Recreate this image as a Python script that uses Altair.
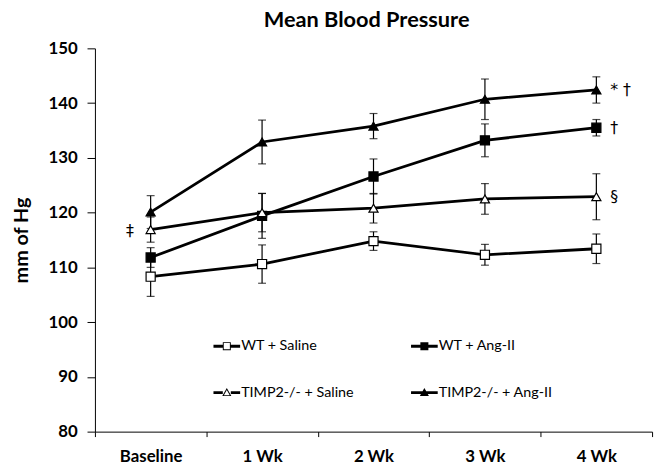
import altair as alt
import pandas as pd

times = ["Baseline", "1 Wk", "2 Wk", "3 Wk", "4 Wk"]
series_names = ["WT + Saline", "WT + Ang-II", "TIMP2-/- + Saline", "TIMP2-/- + Ang-II"]

wt_saline = [108.3, 110.6, 114.8, 112.3, 113.4]
wt_saline_err = [3.6, 3.5, 1.7, 1.9, 2.7]
wt_ang = [111.8, 119.4, 126.6, 133.2, 135.5]
wt_ang_err = [1.8, 4.1, 3.2, 3.0, 1.5]
timp_saline = [116.9, 120.0, 120.8, 122.5, 122.9]
timp_saline_err = [2.3, 3.5, 2.7, 2.8, 4.2]
timp_ang = [120.1, 132.9, 135.8, 140.7, 142.4]
timp_ang_err = [3.0, 4.0, 2.3, 3.7, 2.4]

annot_time = ["4 Wk", "4 Wk", "4 Wk"]
annot_y = [142.4, 135.5, 122.9]
annot_text = ["*  \u2020", "\u2020", "\u00a7"]
left_annot_time = ["Baseline"]
left_annot_y = [116.6]
left_annot_text = ["\u2021"]

FONT = "Lato"
SYM_FONT = "DejaVu Sans"

rows = []
for name, vals, errs in [
    ("WT + Saline", wt_saline, wt_saline_err),
    ("WT + Ang-II", wt_ang, wt_ang_err),
    ("TIMP2-/- + Saline", timp_saline, timp_saline_err),
    ("TIMP2-/- + Ang-II", timp_ang, timp_ang_err),
]:
    for t, v, e in zip(times, vals, errs):
        rows.append({"time": t, "series": name, "value": v, "lo": v - e, "hi": v + e})
df = pd.DataFrame(rows)

ann = pd.DataFrame({"time": annot_time, "value": annot_y, "text": annot_text})
ann_left = pd.DataFrame({"time": left_annot_time, "value": left_annot_y, "text": left_annot_text})

xenc = alt.X(
    "time:N",
    sort=times,
    bandPosition=0.5,
    scale=alt.Scale(type="band", domain=times, paddingInner=0, paddingOuter=0),
    axis=alt.Axis(
        title=None,
        labelAngle=0,
        tickBand="extent",
        tickSize=5,
        labelPadding=12,
        labelFont=FONT,
        labelFontSize=17,
        labelFontWeight="bold",
        labelColor="black",
        domainColor="black",
        tickColor="black",
        grid=False,
    ),
)
yscale = alt.Scale(domain=[80, 150], nice=False, zero=False)
yaxis = alt.Axis(
    title="mm of Hg",
    values=[80, 90, 100, 110, 120, 130, 140, 150],
    tickSize=8,
    labelPadding=10,
    labelFont=FONT,
    labelFontSize=17,
    labelFontWeight="bold",
    labelColor="black",
    titleFont=FONT,
    titleFontSize=20,
    titleFontWeight="bold",
    titleColor="black",
    titlePadding=17,
    domainColor="black",
    tickColor="black",
    grid=False,
)

base = alt.Chart(df)

lines = base.mark_line(color="black", strokeWidth=2.8).encode(
    x=xenc,
    y=alt.Y("value:Q", scale=yscale, axis=yaxis),
    detail="series:N",
)

rules = base.mark_rule(color="black", strokeWidth=1.2).encode(
    x=xenc, y=alt.Y("lo:Q", scale=yscale), y2="hi:Q"
)
caps_lo = base.mark_tick(color="black", size=8, thickness=1.2).encode(
    x=xenc, y=alt.Y("lo:Q", scale=yscale)
)
caps_hi = base.mark_tick(color="black", size=8, thickness=1.2).encode(
    x=xenc, y=alt.Y("hi:Q", scale=yscale)
)

points = base.mark_point(size=85, strokeWidth=1.2, opacity=1, stroke="black").encode(
    x=xenc,
    y=alt.Y("value:Q", scale=yscale),
    shape=alt.Shape(
        "series:N",
        sort=series_names,
        scale=alt.Scale(domain=series_names, range=["square", "square", "triangle-up", "triangle-up"]),
        legend=None,
    ),
    fill=alt.Fill(
        "series:N",
        sort=series_names,
        scale=alt.Scale(domain=series_names, range=["white", "black", "white", "black"]),
        legend=None,
    ),
)

line_l = "M-1,-0.11H-0.3V0.11H-1Z"
line_r = "M0.3,-0.11H1V0.11H0.3Z"
line_full = "M-1,-0.11H1V0.11H-1Z"
sq_out = "M-0.3,-0.3H0.3V0.3H-0.3Z"
sq_in = "M-0.23,-0.23V0.23H0.23V-0.23Z"
tri_out = "M0,-0.34L0.34,0.26L-0.34,0.26Z"
tri_in = "M0,-0.2L-0.22,0.2L0.22,0.2Z"
legend_paths = [
    line_l + line_r + sq_out + sq_in,
    line_full + sq_out,
    line_l + line_r + tri_out + tri_in,
    line_full + tri_out,
]

legend_layer = base.mark_point(filled=True, color="black", opacity=0).encode(
    x=xenc,
    y=alt.Y("value:Q", scale=yscale),
    shape=alt.Shape(
        "series:N",
        sort=series_names,
        scale=alt.Scale(domain=series_names, range=legend_paths),
        legend=alt.Legend(
            title=None,
            orient="none",
            direction="horizontal",
            legendX=120,
            legendY=288,
            columns=2,
            columnPadding=58,
            rowPadding=27,
            symbolSize=729,
            symbolOpacity=1,
            symbolFillColor="black",
            symbolStrokeWidth=0,
            labelFont=FONT,
            labelFontSize=14.5,
            labelColor="black",
            labelOffset=1,
        ),
    ),
)

texts_r = alt.Chart(ann).mark_text(
    align="left", baseline="middle", dx=14, fontSize=16, font=SYM_FONT, color="black"
).encode(x=xenc, y=alt.Y("value:Q", scale=yscale), text="text:N")

texts_l = alt.Chart(ann_left).mark_text(
    align="center", baseline="middle", dx=-21, fontSize=16, font=SYM_FONT, color="black"
).encode(x=xenc, y=alt.Y("value:Q", scale=yscale), text="text:N")

chart = (
    alt.layer(lines, rules, caps_lo, caps_hi, points, legend_layer, texts_r, texts_l)
    .resolve_scale(shape="independent")
    .properties(
        width=564,
        height=388,
        title=alt.TitleParams(
            "Mean Blood Pressure",
            font=FONT,
            fontSize=22,
            fontWeight="bold",
            color="black",
            anchor="middle",
            offset=8,
            dx=-7,
        ),
        autosize=alt.AutoSizeParams(type="none"),
        padding={"left": 88, "top": 38, "right": 6, "bottom": 37},
    )
    .configure_view(stroke=None)
)

chart.save("out.html", embed_options={"renderer": "svg", "actions": False})
